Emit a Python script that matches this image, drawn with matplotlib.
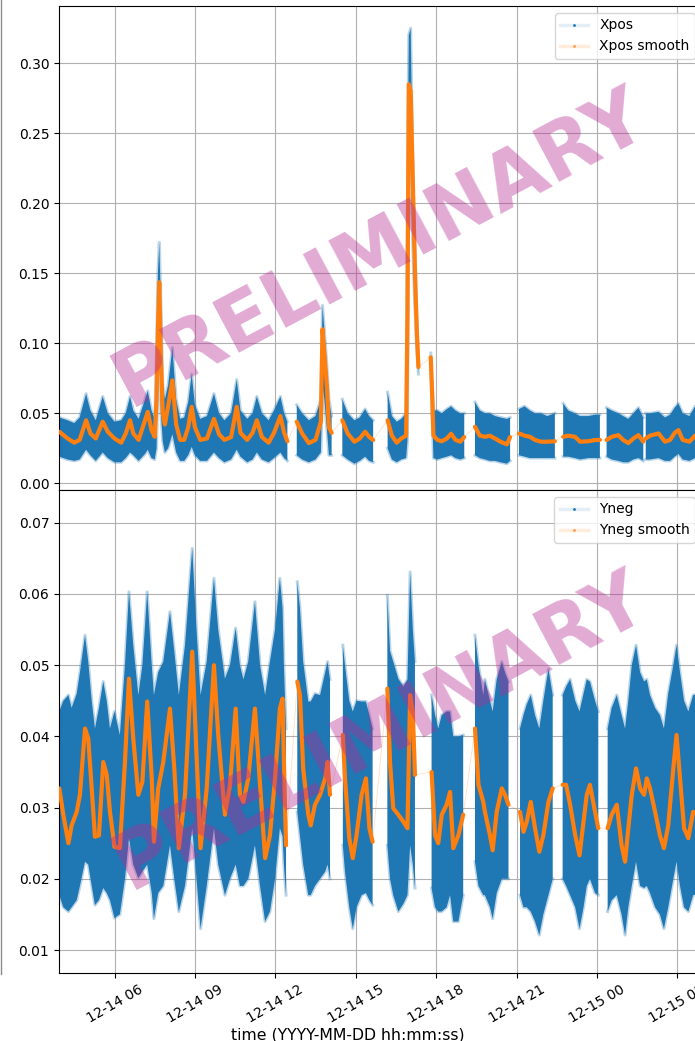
import numpy as np
import pandas as pd
import matplotlib
matplotlib.use("Agg")
import matplotlib.pyplot as plt
import matplotlib.dates as mdates
from matplotlib.lines import Line2D

nan = np.nan
START = pd.Timestamp("2022-12-14 00:00")

# ---------------- Xpos : hours since 12-14 00:00, band low/high, smoothed ----------------
XPOS_HOURS = [
    3.94, 4.25, 4.50, 4.70, 4.94, 5.10, 5.30, 5.56, 5.75, 6.00, 6.25, 6.42, 6.58, 6.70, 6.90,
    7.14, 7.24, 7.38, 7.50, 7.57, 7.62, 7.67, 7.73, 7.80, 7.88, 8.00, 8.16, 8.30, 8.45, 8.60,
    8.75, 8.88, 9.00, 9.20, 9.45, 9.71, 9.90, 10.10, 10.35, 10.56, 10.70, 10.95, 11.15, 11.31,
    11.50, 11.75, 11.95, 12.19, 12.33, 12.45, 12.62,
    12.80, 13.00, 13.25, 13.50, 13.70, 13.76, 13.83, 13.92, 14.00, 14.10, 14.30,
    14.50, 14.70, 14.95, 15.15, 15.35, 15.50, 15.65, 15.90,
    16.19, 16.35, 16.53, 16.70, 16.88, 16.93, 16.98, 17.05, 17.10, 17.16, 17.22, 17.28, 17.34, 17.57,
    17.80, 17.85, 17.90, 18.05, 18.21, 18.40, 18.56, 18.72, 18.90, 19.05, 19.25,
    19.45, 19.63, 19.83, 20.00, 20.20, 20.40, 20.64, 20.76, 20.92,
    21.09, 21.30, 21.50, 21.69, 21.90, 22.15, 22.43, 22.58,
    22.74, 22.93, 23.18, 23.37, 23.68, 23.93, 24.11, 24.23,
    24.36, 24.55, 24.80, 24.98, 25.17, 25.36, 25.55, 25.73, 25.78,
    25.82, 25.98, 26.30, 26.54, 26.73, 26.90, 27.04, 27.20, 27.45, 27.66, 27.92,
]
XPOS_LOW = [
    0.019, 0.017, 0.016, 0.017, 0.024, 0.020, 0.016, 0.022, 0.018, 0.015, 0.015, 0.018, 0.022, 0.020, 0.016,
    0.021, 0.024, 0.018, 0.017, 0.025, 0.080, 0.100, 0.050, 0.030, 0.022, 0.025, 0.035, 0.022, 0.016, 0.016,
    0.020, 0.026, 0.020, 0.016, 0.016, 0.022, 0.018, 0.015, 0.017, 0.024, 0.019, 0.015, 0.017, 0.022,
    0.017, 0.015, 0.018, 0.022, 0.018, 0.016, nan,
    0.020, 0.017, 0.015, 0.017, 0.022, 0.070, 0.060, 0.040, 0.020, 0.020, nan,
    0.020, 0.017, 0.014, 0.016, 0.019, 0.016, 0.015, nan,
    0.025, 0.017, 0.015, 0.017, 0.018, 0.030, 0.240, 0.230, 0.190, 0.150, 0.120, 0.095, 0.078, nan,
    0.085, 0.050, 0.018, 0.017, 0.018, 0.019, 0.020, 0.018, 0.017, 0.018, nan,
    0.020, 0.018, 0.017, 0.016, 0.016, 0.015, 0.014, 0.016, nan,
    0.020, 0.019, 0.018, 0.018, 0.018, 0.018, 0.018, nan,
    0.019, 0.019, 0.018, 0.017, 0.018, 0.018, 0.018, nan,
    0.019, 0.017, 0.016, 0.015, 0.015, 0.017, 0.018, 0.016, nan,
    0.017, 0.017, 0.018, 0.016, 0.016, 0.019, 0.021, 0.017, 0.016, 0.018, 0.018,
]
XPOS_HIGH = [
    0.047, 0.045, 0.043, 0.047, 0.064, 0.052, 0.045, 0.062, 0.050, 0.044, 0.045, 0.050, 0.062, 0.052, 0.046,
    0.060, 0.066, 0.052, 0.046, 0.095, 0.150, 0.172, 0.130, 0.070, 0.060, 0.070, 0.097, 0.060, 0.046, 0.047,
    0.058, 0.078, 0.056, 0.046, 0.048, 0.064, 0.050, 0.045, 0.050, 0.074, 0.052, 0.046, 0.050, 0.062,
    0.050, 0.045, 0.052, 0.062, 0.050, 0.044, nan,
    0.056, 0.050, 0.045, 0.048, 0.060, 0.127, 0.110, 0.085, 0.060, 0.048, nan,
    0.060, 0.050, 0.045, 0.047, 0.053, 0.048, 0.045, nan,
    0.065, 0.048, 0.044, 0.046, 0.050, 0.200, 0.320, 0.325, 0.260, 0.200, 0.160, 0.120, 0.088, nan,
    0.093, 0.070, 0.052, 0.052, 0.050, 0.053, 0.055, 0.052, 0.050, 0.050, nan,
    0.058, 0.052, 0.050, 0.050, 0.048, 0.047, 0.046, 0.047, nan,
    0.053, 0.055, 0.052, 0.050, 0.050, 0.048, 0.050, nan,
    0.057, 0.052, 0.050, 0.048, 0.048, 0.049, 0.049, nan,
    0.054, 0.052, 0.050, 0.048, 0.046, 0.050, 0.054, 0.047, nan,
    0.050, 0.050, 0.051, 0.047, 0.049, 0.054, 0.057, 0.050, 0.048, 0.055, 0.052,
]
XPOS_SMOOTH = [
    0.0368, 0.032, 0.029, 0.031, 0.045, 0.0356, 0.032, 0.044, 0.0368, 0.032, 0.029, 0.0356, 0.045, 0.0356, 0.031,
    0.045, 0.051, 0.038, 0.0332, 0.060, 0.110, 0.1436, 0.090, 0.050, 0.042, 0.055, 0.0735, 0.042, 0.031, 0.031,
    0.040, 0.0546, 0.040, 0.031, 0.032, 0.046, 0.035, 0.031, 0.033, 0.0546, 0.036, 0.031, 0.036, 0.045,
    0.033, 0.029, 0.036, 0.048, 0.036, 0.030, nan,
    0.044, 0.0356, 0.0287, 0.031, 0.044, 0.110, 0.093, 0.070, 0.040, 0.036, nan,
    0.045, 0.0356, 0.0297, 0.032, 0.0368, 0.0332, 0.0309, nan,
    0.045, 0.034, 0.029, 0.032, 0.034, 0.120, 0.285, 0.280, 0.240, 0.190, 0.144, 0.108, 0.083, nan,
    0.090, 0.065, 0.034, 0.031, 0.030, 0.032, 0.0354, 0.031, 0.0297, 0.033, nan,
    0.0404, 0.034, 0.0332, 0.034, 0.032, 0.0297, 0.0278, 0.033, nan,
    0.0356, 0.034, 0.0332, 0.031, 0.0297, 0.0297, 0.030, nan,
    0.0332, 0.034, 0.0332, 0.0297, 0.030, 0.0309, 0.031, nan,
    0.0309, 0.0332, 0.0344, 0.0309, 0.0287, 0.032, 0.0344, 0.0297, nan,
    0.032, 0.034, 0.0356, 0.0297, 0.031, 0.036, 0.038, 0.031, 0.0297, 0.034, 0.035,
]

# ---------------- Yneg ----------------
YNEG_HOURS = [
    3.94, 4.09, 4.28, 4.40, 4.59, 4.71, 4.90, 5.02, 5.15, 5.27, 5.42, 5.58, 5.71, 5.83, 6.00,
    6.20, 6.39, 6.54, 6.70, 6.89, 7.04, 7.22, 7.39, 7.47, 7.63, 7.82, 8.07, 8.23, 8.40, 8.63,
    8.90, 9.06, 9.21, 9.44, 9.71, 9.87, 10.12, 10.31, 10.52, 10.68, 10.81, 10.99, 11.24, 11.43,
    11.62, 11.80, 11.99, 12.17, 12.27, 12.32, 12.40, 12.61,
    12.82, 12.92, 13.04, 13.23, 13.32, 13.48, 13.67, 13.86, 13.95, 14.04, 14.27,
    14.52, 14.60, 14.76, 14.89, 15.03, 15.22, 15.38, 15.51, 15.63, 15.90,
    16.18, 16.28, 16.40, 16.59, 16.78, 16.93, 17.03, 17.13, 17.21, 17.50,
    17.83, 17.96, 18.08, 18.21, 18.39, 18.52, 18.64, 18.83, 19.01, 19.23,
    19.45, 19.58, 19.76, 19.82, 20.01, 20.11, 20.26, 20.45, 20.57, 20.70, 20.90,
    21.13, 21.26, 21.38, 21.53, 21.69, 21.85, 22.00, 22.19, 22.35, 22.55,
    22.72, 22.85, 23.00, 23.19, 23.35, 23.50, 23.62, 23.74, 23.93, 24.05, 24.22,
    24.40, 24.55, 24.74, 24.92, 25.05, 25.17, 25.30, 25.46, 25.61, 25.76, 25.86, 25.98,
    26.17, 26.35, 26.50, 26.66, 26.85, 26.97, 27.10, 27.25, 27.41, 27.59, 27.92,
]
YNEG_LOW = [
    0.0177, 0.016, 0.0154, 0.016, 0.017, 0.019, 0.0224, 0.022, 0.019, 0.0163, 0.017, 0.0187, 0.018, 0.017, 0.0145,
    0.015, 0.020, 0.0257, 0.022, 0.0201, 0.021, 0.022, 0.018, 0.0144, 0.018, 0.019, 0.0247, 0.020, 0.0154, 0.019,
    0.0271, 0.020, 0.013, 0.019, 0.0271, 0.022, 0.0177, 0.020, 0.022, 0.019, 0.019, 0.020, 0.0247, 0.019,
    0.014, 0.0154, 0.020, 0.0271, 0.026, 0.022, 0.0177, nan,
    0.0294, 0.026, 0.022, 0.0177, 0.0177, 0.019, 0.020, 0.021, 0.022, 0.020, nan,
    0.0247, 0.021, 0.016, 0.013, 0.016, 0.0177, 0.018, 0.017, 0.0163, nan,
    0.0247, 0.020, 0.0177, 0.0154, 0.0165, 0.0177, 0.0247, 0.022, 0.0187, nan,
    0.0187, 0.016, 0.0154, 0.0154, 0.016, 0.0177, 0.014, 0.014, 0.0177, nan,
    0.0224, 0.019, 0.0177, 0.0177, 0.016, 0.0144, 0.018, 0.020, 0.020, 0.020, nan,
    0.0177, 0.016, 0.016, 0.0154, 0.014, 0.0121, 0.015, 0.0177, 0.020, nan,
    0.020, 0.019, 0.0177, 0.016, 0.013, 0.016, 0.019, 0.020, 0.018, 0.0177, nan,
    0.0154, 0.017, 0.0177, 0.015, 0.0121, 0.016, 0.019, 0.0224, 0.019, 0.0187, 0.019, 0.018,
    0.016, 0.015, 0.013, 0.016, 0.020, 0.0224, 0.019, 0.016, 0.0154, 0.0177, 0.018,
]
YNEG_HIGH = [
    0.0435, 0.045, 0.0458, 0.044, 0.046, 0.049, 0.0542, 0.0505, 0.045, 0.0411, 0.044, 0.0477, 0.045, 0.0411, 0.0435,
    0.0402, 0.050, 0.0603, 0.0528, 0.0458, 0.050, 0.0603, 0.050, 0.0458, 0.049, 0.0505, 0.0575, 0.052, 0.0458, 0.0528,
    0.0664, 0.055, 0.0458, 0.0505, 0.0622, 0.055, 0.0481, 0.050, 0.0552, 0.050, 0.048, 0.0505, 0.0589, 0.050,
    0.0458, 0.0505, 0.055, 0.0622, 0.058, 0.050, 0.0411, nan,
    0.0617, 0.058, 0.0505, 0.0449, 0.0449, 0.046, 0.0458, 0.049, 0.0505, 0.048, nan,
    0.0528, 0.050, 0.045, 0.0435, 0.045, 0.0449, 0.0449, 0.043, 0.0411, nan,
    0.0598, 0.052, 0.0505, 0.0481, 0.047, 0.048, 0.0631, 0.055, 0.0505, nan,
    0.0458, 0.043, 0.0411, 0.043, 0.0435, 0.0435, 0.040, 0.040, 0.0402, nan,
    0.0542, 0.050, 0.0458, 0.048, 0.045, 0.0435, 0.048, 0.0505, 0.049, 0.0477, nan,
    0.0411, 0.043, 0.0445, 0.0458, 0.043, 0.0411, 0.045, 0.0495, 0.0458, nan,
    0.0458, 0.047, 0.048, 0.045, 0.0435, 0.046, 0.048, 0.0477, 0.045, 0.0435, nan,
    0.0411, 0.044, 0.0458, 0.043, 0.0411, 0.045, 0.050, 0.0528, 0.049, 0.0477, 0.048, 0.0458,
    0.044, 0.043, 0.0411, 0.046, 0.050, 0.0528, 0.049, 0.045, 0.0435, 0.0458, 0.046,
]
YNEG_SMOOTH = [
    0.0327, 0.029, 0.025, 0.0275, 0.0294, 0.0318, 0.0411, 0.0397, 0.0327, 0.0259, 0.0261, 0.0364, 0.0346, 0.0294, 0.0245,
    0.0243, 0.0364, 0.0481, 0.0397, 0.0318, 0.0336, 0.0449, 0.0341, 0.0252, 0.0327, 0.0364, 0.0439, 0.0355, 0.0243, 0.0318,
    0.0519, 0.0374, 0.0243, 0.0327, 0.050, 0.0402, 0.029, 0.0332, 0.0439, 0.0318, 0.0308, 0.0341, 0.0439, 0.0332,
    0.0229, 0.0261, 0.0341, 0.0439, 0.0453, 0.0364, 0.0247, nan,
    0.0477, 0.0458, 0.0355, 0.029, 0.0275, 0.0304, 0.0318, 0.0341, 0.0364, 0.0318, nan,
    0.0402, 0.0341, 0.0257, 0.0229, 0.0261, 0.0318, 0.0341, 0.0271, 0.0252, nan,
    0.0467, 0.0364, 0.0299, 0.029, 0.028, 0.0271, 0.0458, 0.0435, 0.0346, nan,
    0.035, 0.0261, 0.025, 0.029, 0.0304, 0.0322, 0.0243, 0.0261, 0.029, nan,
    0.0411, 0.0332, 0.0308, 0.0294, 0.0261, 0.024, 0.0294, 0.0327, 0.0318, 0.0304, nan,
    0.0294, 0.0266, 0.028, 0.0308, 0.0271, 0.0238, 0.0261, 0.0308, 0.0327, nan,
    0.0332, 0.0332, 0.0304, 0.0261, 0.0233, 0.028, 0.0318, 0.0332, 0.0294, 0.0271, nan,
    0.0271, 0.029, 0.0304, 0.0247, 0.0224, 0.0271, 0.0318, 0.0355, 0.0327, 0.0318, 0.0341, 0.0327,
    0.0294, 0.0261, 0.0243, 0.0275, 0.0355, 0.0402, 0.0341, 0.0271, 0.0257, 0.0294, 0.029,
]

BLUE = "#1f77b4"
ORANGE = "#ff7f0e"


def to_time(hours):
    return START + pd.to_timedelta(np.asarray(hours, dtype=float), unit="h")


def draw_series(ax, hours, low, high, smooth, name):
    t = to_time(hours)
    low = np.asarray(low, float)
    high = np.asarray(high, float)
    smooth = np.asarray(smooth, float)
    ok = ~np.isnan(smooth)

    # raw signal: spread between the low and high envelope, with a soft fringe
    ax.fill_between(t, low, high, color=BLUE, lw=0, zorder=2)
    ax.plot(t, high, color=BLUE, lw=2.2, alpha=0.3, zorder=2)
    ax.plot(t, low, color=BLUE, lw=2.2, alpha=0.3, zorder=2)
    # faint joins across data gaps
    ax.plot(t[ok], smooth[ok], color=ORANGE, lw=0.6, alpha=0.25, zorder=3)
    # smoothed trace
    ax.plot(t, smooth, color=ORANGE, lw=3.0, solid_capstyle="round", zorder=4)

    handles = [
        Line2D([], [], color=(0.12, 0.47, 0.71, 0.12), lw=2.5, marker=".",
               ms=2, mfc=BLUE, mec=BLUE),
        Line2D([], [], color=(1.0, 0.5, 0.05, 0.15), lw=2.5, marker=".",
               ms=2, mfc=(1.0, 0.6, 0.3), mec=(1.0, 0.6, 0.3)),
    ]
    ax.legend(handles, [name, name + " smooth"], loc="upper right", fontsize=10)

    ax.text(0.5, 0.5, "PRELIMINARY", transform=ax.transAxes, rotation=28,
            fontsize=56, fontweight="bold", color="#B72B94", alpha=0.4,
            ha="center", va="center", zorder=10)
    ax.grid(True, color="#b0b0b0", lw=0.8)
    ax.set_axisbelow(True)


W, H = 695, 1041
fig = plt.figure(figsize=(W / 100, H / 100), dpi=100)
left, right = 59 / W, 702 / W
ax1 = fig.add_axes([left, 1 - 490 / H, right - left, (490 - 6) / H])
ax2 = fig.add_axes([left, 1 - 973 / H, right - left, (973 - 490) / H], sharex=ax1)

draw_series(ax1, XPOS_HOURS, XPOS_LOW, XPOS_HIGH, XPOS_SMOOTH, "Xpos")
draw_series(ax2, YNEG_HOURS, YNEG_LOW, YNEG_HIGH, YNEG_SMOOTH, "Yneg")

ax1.set_ylim(-0.0048, 0.3409)
ax2.set_ylim(0.00677, 0.0746)
ax1.set_xlim(to_time([3.929])[0], to_time([27.92])[0])

ax2.xaxis.set_major_locator(mdates.HourLocator(byhour=range(0, 24, 3)))
ax2.xaxis.set_major_formatter(mdates.DateFormatter("%m-%d %H"))
ax1.tick_params(labelbottom=False)
plt.setp(ax2.get_xticklabels(), rotation=30, ha="center")

fig.text(347.5 / W, 1 - 1040 / H, "time (YYYY-MM-DD hh:mm:ss)", ha="center",
         va="baseline", fontsize=11.3)

# edge of the neighbouring panel on the left
fig.add_artist(Line2D([0.8 / W, 0.8 / W], [1, 1 - 974 / H], transform=fig.transFigure,
                      color="0.55", lw=1.0))

fig.savefig("out.png", dpi=100)
